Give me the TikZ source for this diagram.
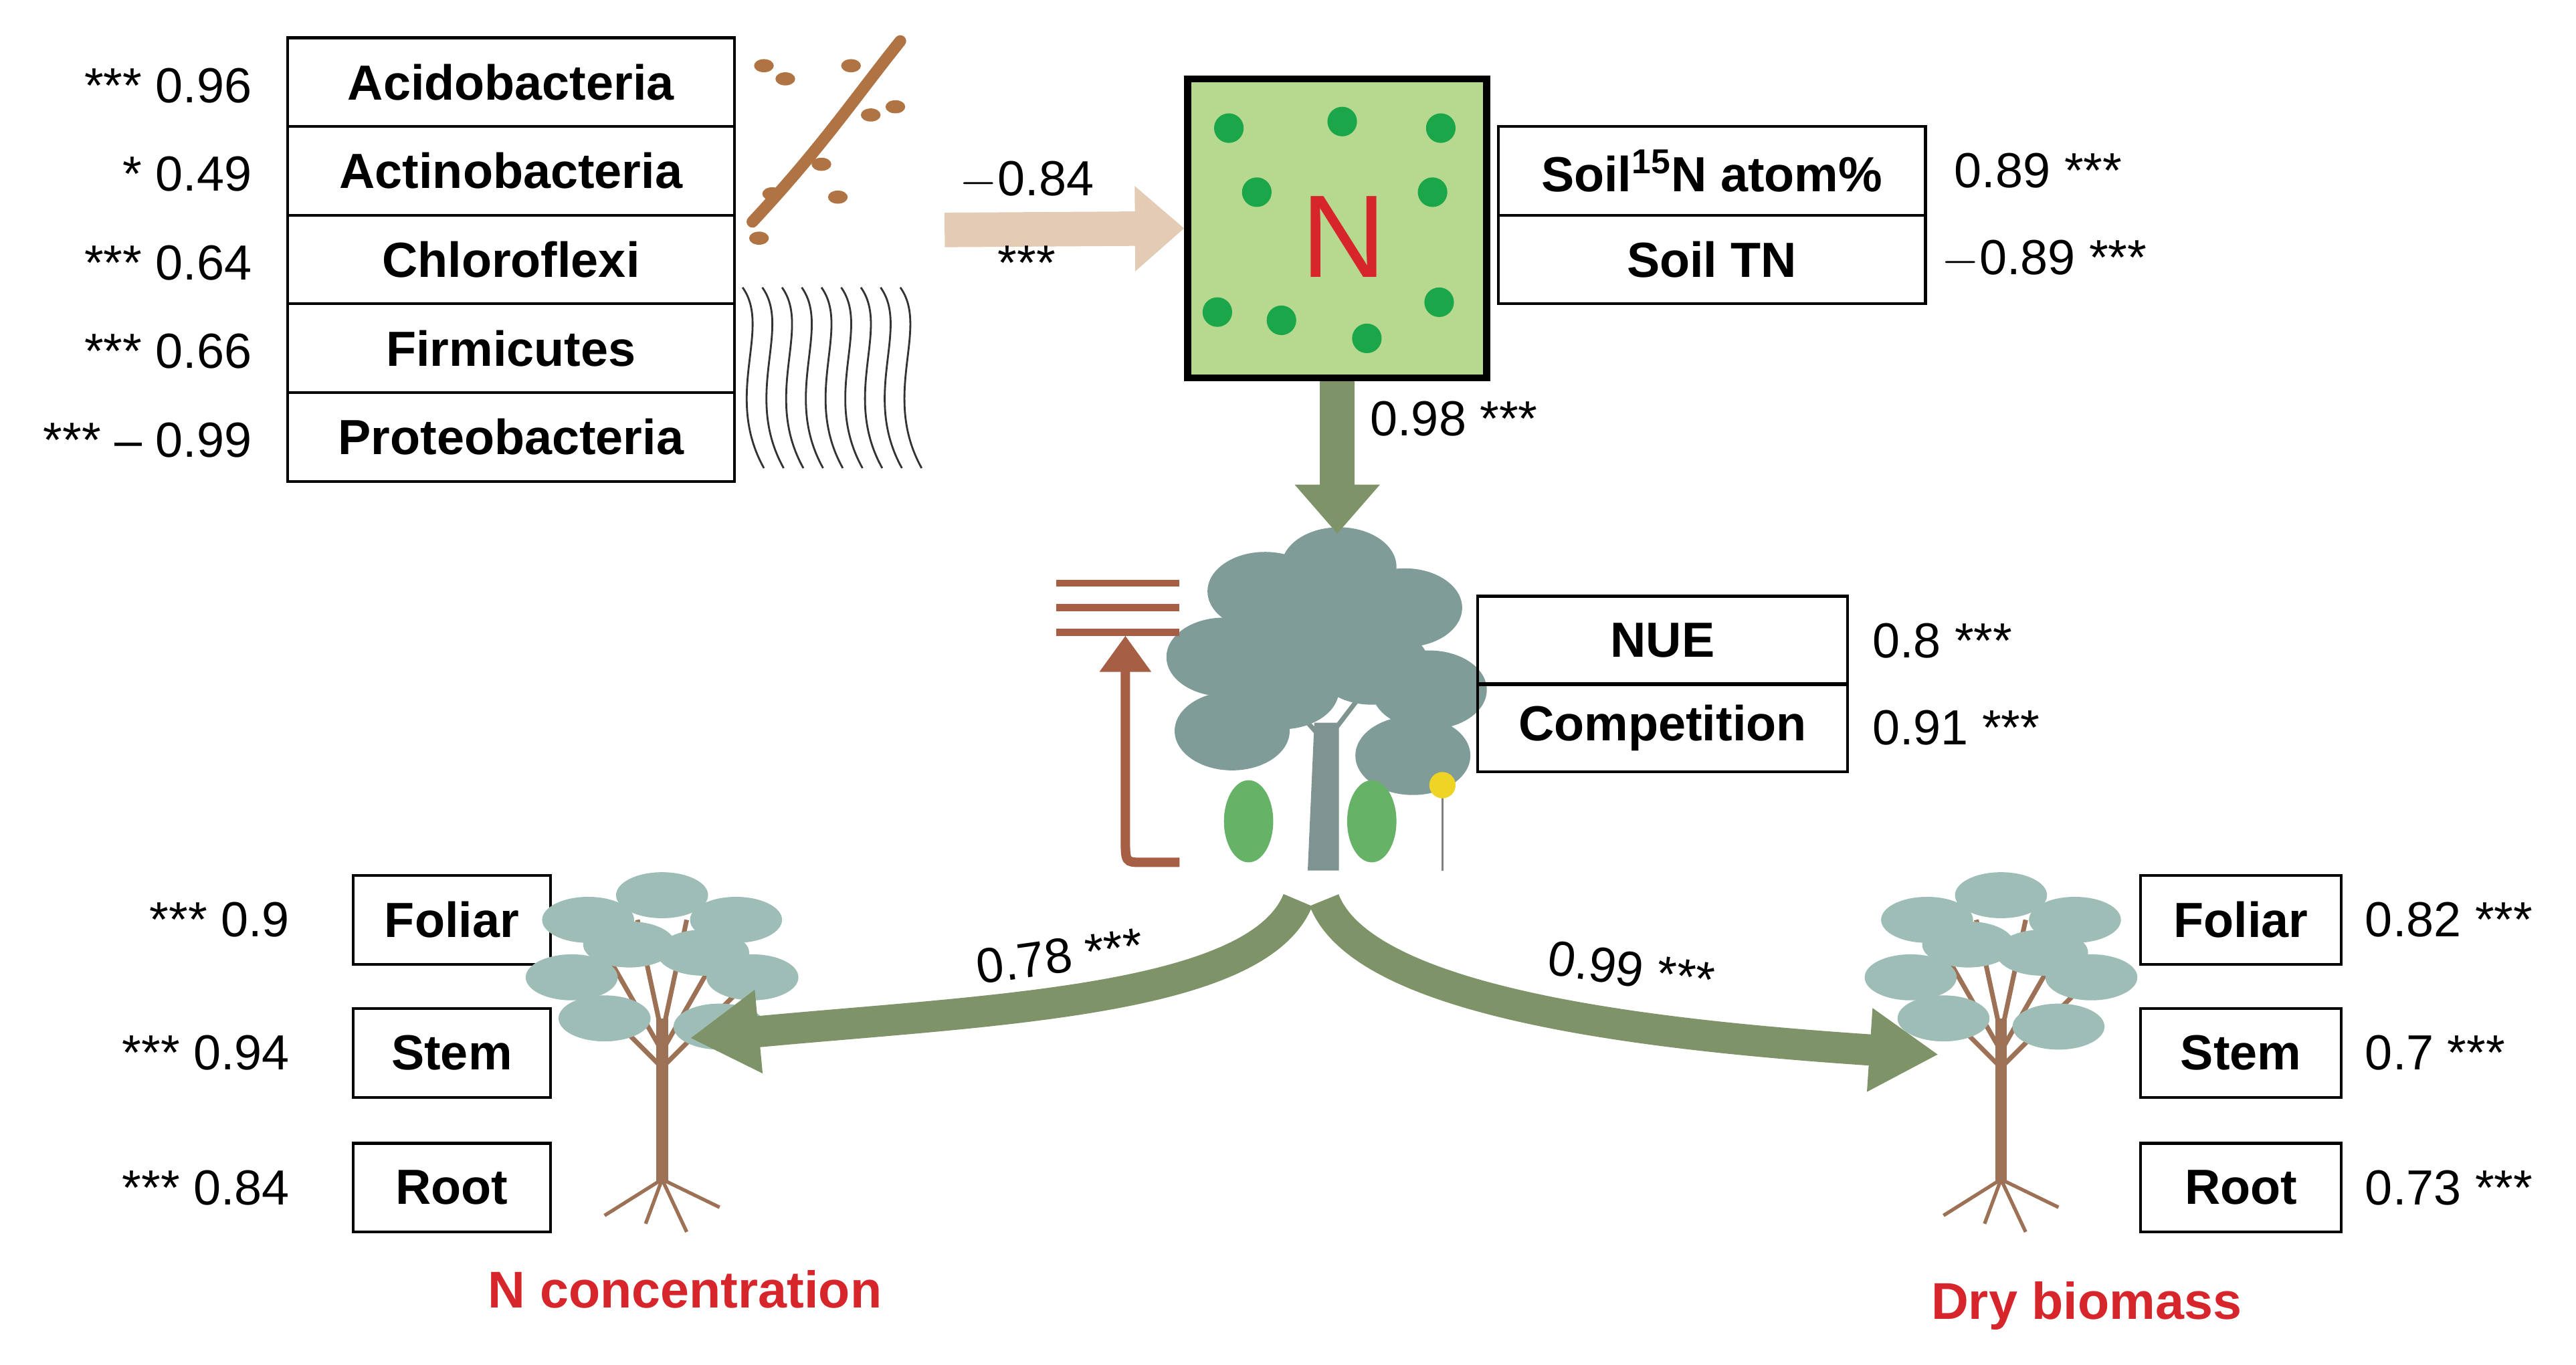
\documentclass[tikz,border=0pt]{standalone}
\usepackage{fontspec}
\setmainfont{Liberation Sans}
\usetikzlibrary{arrows.meta}
\definecolor{bgreen}{HTML}{7E9468}
\definecolor{sgreen}{HTML}{B6D98F}
\definecolor{dgreen}{HTML}{1BA64A}
\definecolor{beige}{HTML}{E3CBB5}
\definecolor{rbrown}{HTML}{A65E45}
\definecolor{crown}{HTML}{9DBDB6}
\definecolor{trunk}{HTML}{9C7155}
\definecolor{cred}{HTML}{D7262B}
\definecolor{ctree}{HTML}{7F9C98}
\begin{document}
\begin{tikzpicture}[x=0.02456cm,y=-0.02456cm,
  font=\fontsize{21}{25}\selectfont,
  box/.style={draw,line width=1.2pt,minimum height=54*0.02456cm,inner sep=0pt,font=\fontsize{21}{25}\selectfont\bfseries},
  val/.style={inner sep=1pt},
  red/.style={text=cred,font=\fontsize{22}{26}\selectfont\bfseries},
  fat/.style={line width=21*0.02456cm},
  pics/smalltree/.style={code={
    \draw[trunk,line width=5pt] (0,120) -- (0,20);
    \draw[trunk,line width=2pt] (0,40) -- (-40,-30) (0,40) -- (40,-30) (0,30) -- (-15,-40) (0,30) -- (15,-40) (0,50) -- (-55,-5) (0,50) -- (55,-5);
    \draw[trunk,line width=1.5pt] (0,118) -- (-35,140) (0,118) -- (35,135) (0,118) -- (-10,145) (0,118) -- (15,150);
    \foreach \p in {(-45,-40),(0,-55),(45,-40),(-55,-5),(55,-5),(-20,-25),(25,-20),(-35,20),(35,25)}
      \fill[crown] \p ellipse (28 and 14);
  }}]
\useasboundingbox (0,0) rectangle (1568,831);

\foreach \t/\v/\i in {Acidobacteria/{*** 0.96}/0,Actinobacteria/{* 0.49}/1,Chloroflexi/{*** 0.64}/2,Firmicutes/{*** 0.66}/3,Proteobacteria/{*** -- 0.99}/4}{
  \node[box,minimum width=272*0.02456cm] (l\i) at (311,{50+54*\i}) {\t};
  \node[val,anchor=east] (lv\i) at (155,{52+54*\i}) {\v};
}
\draw[trunk!80!orange,line width=5pt,line cap=round] (458,135) .. controls (500,90) and (520,60) .. (548,25);
\foreach \p in {(465,40),(478,48),(518,40),(530,70),(545,65),(470,118),(462,145),(500,100),(510,120)}
  \fill[trunk!80!orange] \p ellipse (6 and 4);
\foreach \a in {0,12,...,96}
  \draw[black!80,line width=0.8pt] ({452+\a},175) .. controls ({470+\a},200) and ({440+\a},240) .. ({465+\a},285);
\node[draw,line width=3pt,fill=sgreen,minimum width=182*0.02456cm,minimum height=182*0.02456cm] (nb) at (814,139) {};
\node[text=cred,font=\fontsize{50}{52}\selectfont] (nt) at (818,144) {N};
\foreach \p in {(748,78),(817,74),(877,78),(765,117),(872,117),(741,190),(780,195),(832,206),(876,184)}
  \fill[dgreen] \p circle (9);
\coordinate (ba) at (575,140);
\draw[beige,fat,-{Triangle[length=30*0.02456cm,width=50*0.02456cm]}] (ba) -- (nb.west);
\node[val] (m84) at (625,110) {$-$0.84};
\node[val] (m84s) at (625,160) {***};
\node[box,minimum width=260*0.02456cm] (s0) at (1042,104) {Soil$^{\mathbf{15}}$N atom\%};
\node[box,minimum width=260*0.02456cm] (s1) at (1042,158) {Soil TN};
\node[val,anchor=west] (sv0) at (1188,104) {0.89 ***};
\node[val,anchor=west] (sv1) at (1180,158) {$-$0.89 ***};
\coordinate (ct) at (814,325);
\fill[ctree!70!gray] (796,530) -- (800,440) -- (815,440) -- (815,530) -- cycle;
\draw[ctree!70!gray,line width=2pt] (805,450) -- (760,400) (808,450) -- (850,395) (806,420) -- (800,360);
\foreach \p in {(770,360),(815,345),(855,370),(745,400),(870,420),(780,420),(835,405),(750,445),(860,460),(800,385)}
  \fill[ctree] \p ellipse (35 and 24);
\foreach \p in {(760,500),(835,500)} \fill[green!50!black!60] \p ellipse (15 and 25);
\draw[gray,line width=1pt] (878,530) -- (878,480);
\fill[yellow!70!brown] (878,478) circle (8);
\draw[bgreen,fat,-{Triangle[length=30*0.02456cm,width=50*0.02456cm]}] (nb.south) -- (ct);
\node[val] (l98) at (885,255) {0.98 ***};
\foreach \y in {355,370,385} \draw[rbrown,line width=3pt] (643,\y) -- (718,\y);
\coordinate (rb) at (718,525);
\coordinate (rt) at (685,387);
\draw[rbrown,line width=4pt,-{Triangle[length=22*0.02456cm,width=30*0.02456cm]}] (rb) -- (695,525) .. controls (685,525) .. (685,510) -- (rt);
\node[box,minimum width=225*0.02456cm] (n0) at (1012,390) {NUE};
\node[box,minimum width=225*0.02456cm] (n1) at (1012,443) {Competition};
\node[val,anchor=west] (nv0) at (1138,390) {0.8 ***};
\node[val,anchor=west] (nv1) at (1138,443) {0.91 ***};
\foreach \t/\v/\y [count=\i] in {Foliar/{*** 0.9}/560,Stem/{*** 0.94}/641,Root/{*** 0.84}/723}{
  \node[box,minimum width=120*0.02456cm] (bl\i) at (275,\y) {\t};
  \node[val,anchor=east] (blv\i) at (178,\y) {\v};
}
\pic at (403,600) {smalltree};
\node[red] (nc) at (417,785) {N concentration};
\foreach \t/\v/\y [count=\i] in {Foliar/{0.82 ***}/560,Stem/{0.7 ***}/641,Root/{0.73 ***}/723}{
  \node[box,minimum width=122*0.02456cm] (br\i) at (1364,\y) {\t};
  \node[val,anchor=west] (brv\i) at (1438,\y) {\v};
}
\pic at (1218,600) {smalltree};
\node[red] (db) at (1270,795) {Dry biomass};
\coordinate (la) at (420,632);
\coordinate (ra) at (1180,642);
\draw[bgreen,line width=19*0.02456cm,-{Triangle[length=42*0.02456cm,width=48*0.02456cm]}] (790,548) .. controls (765,610) and (600,615) .. (la);
\draw[bgreen,line width=19*0.02456cm,-{Triangle[length=42*0.02456cm,width=48*0.02456cm]}] (806,548) .. controls (830,610) and (1000,630) .. (ra);
\node[val,rotate=8] (l78) at (645,582) {0.78 ***};
\node[val,rotate=-8] (l99) at (993,590) {0.99 ***};
\end{tikzpicture}
\end{document}
